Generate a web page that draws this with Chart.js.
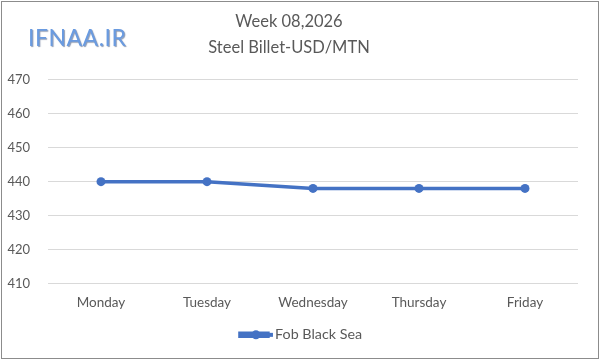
<!DOCTYPE html>
<html>
<head>
<meta charset="utf-8">
<script src="https://cdn.jsdelivr.net/npm/chart.js@4.4.1/dist/chart.umd.min.js"></script>
<style>
    body { margin: 0; background: #fff; }
    #wrap { position: relative; width: 600px; height: 360px; }
    #frame { position: absolute; left: 1px; top: 1px; width: 596px; height: 356px; border: 1px solid #8c8c8c; pointer-events: none; }
    #logo { position: absolute; left: 28px; top: 23px; font-family: Lato, sans-serif; font-size: 23px; color: #6a9be0; letter-spacing: 0.5px; text-shadow: 1px 1px 1px #8e9bb3; }
</style>
</head>
<body>
<div id="wrap">
    <canvas id="priceChart" width="600" height="360"></canvas>
    <div id="logo">IFNAA.IR</div>
    <div id="frame"></div>
</div>
<script>
const days = ['Monday', 'Tuesday', 'Wednesday', 'Thursday', 'Friday'];
const fobBlackSea = [440, 440, 438, 438, 438];
const titleLines = ['Week 08,2026', 'Steel Billet-USD/MTN'];
const seriesName = 'Fob Black Sea';
const yMin = 410;
const yMax = 470;
const yStep = 10;

const lineColor = '#4472C4';
const textColor = '#595959';

// line + round marker in the legend, like the spreadsheet one
// legend is also nudged right so it sits in the middle of the page
const legendDot = {
    id: 'legendDot',
    afterUpdate(chart) {
        let shift = 12;
        chart.legend.left += shift;
        chart.legend.right += shift;
        chart.legend.legendHitBoxes.forEach(function(box) {
            box.left += shift;
        });
    },
    afterDraw(chart) {
        let ctx = chart.ctx;
        chart.legend.legendHitBoxes.forEach(function(box) {
            let cy = box.top + box.height / 2;
            ctx.save();
            ctx.fillStyle = lineColor;
            ctx.fillRect(box.left, cy - 2, 33, 4);
            ctx.beginPath();
            ctx.arc(box.left + 16, cy, 4.5, 0, Math.PI * 2);
            ctx.fill();
            ctx.restore();
        });
    }
};

let ctx = document.getElementById('priceChart').getContext('2d');
let priceChart = new Chart(ctx, {
    type: 'line',
    data: {
        labels: days,
        datasets: [{
            label: seriesName,
            data: fobBlackSea,
            borderColor: lineColor,
            backgroundColor: lineColor,
            borderWidth: 3.5,
            pointRadius: 4.5,
            pointBackgroundColor: lineColor,
            pointBorderWidth: 0,
            tension: 0
        }]
    },
    options: {
        responsive: false,
        animation: false,
        layout: {
            padding: { left: 0, right: 22, top: 8, bottom: 8 }
        },
        scales: {
            x: {
                offset: true,
                grid: { display: false },
                border: { display: false },
                ticks: {
                    color: textColor,
                    font: { family: 'Lato', size: 13.5 },
                    padding: 3
                }
            },
            y: {
                min: yMin,
                max: yMax,
                grid: { color: '#d9d9d9', drawTicks: false },
                border: { display: false },
                afterFit: function(scale) {
                    scale.width = 48;
                },
                ticks: {
                    stepSize: yStep,
                    color: textColor,
                    font: { family: 'Lato', size: 13 },
                    padding: 18
                }
            }
        },
        plugins: {
            title: {
                display: true,
                text: titleLines,
                color: textColor,
                font: { family: 'Lato', size: 16.5, weight: 'normal', lineHeight: 1.6 },
                padding: { top: 0, bottom: 19 }
            },
            legend: {
                position: 'bottom',
                labels: {
                    boxWidth: 28,
                    boxHeight: 3,
                    color: textColor,
                    font: { family: 'Lato', size: 14.3 },
                    padding: 14
                }
            },
            tooltip: { enabled: false }
        }
    },
    plugins: [legendDot]
});
</script>
</body>
</html>
